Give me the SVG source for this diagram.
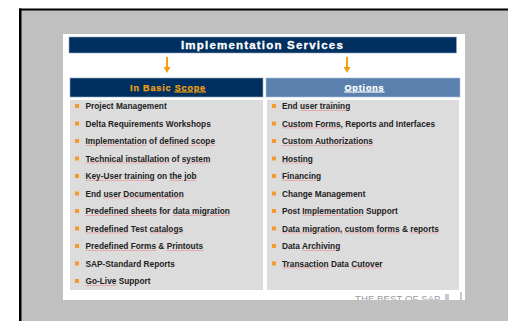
<svg xmlns="http://www.w3.org/2000/svg" width="508" height="321" viewBox="0 0 508 321">
<defs>
<style>
.item{font-family:"Liberation Sans",Arial,sans-serif;font-size:8.3px;font-weight:bold;fill:#222222}
.bul{fill:#f59a2e}
.hdr{font-family:"Liberation Sans",Arial,sans-serif;font-size:9px;font-weight:bold;text-anchor:middle;letter-spacing:0.85px}
.arrow{fill:#f0a010}
.sp{fill:#eaa0a0;text-decoration:underline}
.w{fill:#222222}
</style>
<clipPath id="panelClip"><rect x="63" y="34" width="402" height="266"/></clipPath>
</defs>
<rect x="0" y="0" width="508" height="321" fill="#ffffff"/>
<rect x="19" y="9" width="489" height="312" fill="#c0c0c0"/>
<rect x="19" y="8.5" width="489" height="2" fill="#000"/>
<rect x="19" y="8.5" width="2.5" height="312.5" fill="#000"/>
<rect x="63" y="34" width="402" height="266" fill="#ffffff"/>

<g id="title">
<rect x="69" y="37" width="387.5" height="16" fill="#00305f" stroke="#8fa7c4" stroke-width="0.6"/>
<text x="262.5" y="49.2" font-family="'Liberation Sans',Arial,sans-serif" font-size="11.5" font-weight="bold" fill="#fff" stroke="#fff" stroke-width="0.3" text-anchor="middle" letter-spacing="1.2">Implementation Services</text>
</g>

<g id="connectors">
<rect class="arrow" x="166" y="57" width="2" height="11"/>
<polygon class="arrow" points="163.5,67 170.5,67 167,73"/>
<rect class="arrow" x="346" y="57" width="2" height="11"/>
<polygon class="arrow" points="343.5,67 350.5,67 347,73"/>
</g>

<g id="basic-header">
<rect x="70" y="78" width="193" height="19" fill="#00305f" stroke="#8fa7c4" stroke-width="0.6"/>
<text class="hdr" x="168" y="90.5" fill="#f0a010" stroke="#f0a010" stroke-width="0.25">In Basic <tspan text-decoration="underline">Scope</tspan></text>
</g>

<g id="options-header">
<rect x="266" y="78" width="194" height="19" fill="#5a80ad" stroke="#a9bfd9" stroke-width="0.6"/>
<text class="hdr" x="364.5" y="90.5" fill="#ffffff" stroke="#ffffff" stroke-width="0.25" text-decoration="underline">Options</text>
</g>

<g id="basic-list">
<rect x="70" y="100" width="193" height="190" fill="#dcdcdc"/>
<g class="bul">
<rect x="75" y="104" width="4" height="4"/>
<rect x="75" y="121.5" width="4" height="4"/>
<rect x="75" y="139" width="4" height="4"/>
<rect x="75" y="156.5" width="4" height="4"/>
<rect x="75" y="174" width="4" height="4"/>
<rect x="75" y="191.5" width="4" height="4"/>
<rect x="75" y="209" width="4" height="4"/>
<rect x="75" y="226.5" width="4" height="4"/>
<rect x="75" y="244" width="4" height="4"/>
<rect x="75" y="261.5" width="4" height="4"/>
<rect x="75" y="279" width="4" height="4"/>
</g>
<text class="item" x="85.5" y="109">Project Management</text>
<text class="item" x="85.5" y="126.5">Delta Requirements Workshops</text>
<text class="item" x="85.5" y="144"><tspan class="sp"><tspan class="w">Implementation</tspan></tspan> of <tspan class="sp"><tspan class="w">defined scope</tspan></tspan></text>
<text class="item" x="85.5" y="161.5"><tspan class="sp"><tspan class="w">Technical installation</tspan></tspan> of <tspan class="sp"><tspan class="w">system</tspan></tspan></text>
<text class="item" x="85.5" y="179"><tspan class="sp"><tspan class="w">Key-User training</tspan></tspan> on <tspan class="sp"><tspan class="w">the job</tspan></tspan></text>
<text class="item" x="85.5" y="196.5">End <tspan class="sp"><tspan class="w">user Documentation</tspan></tspan></text>
<text class="item" x="85.5" y="214"><tspan class="sp"><tspan class="w">Predefined sheets</tspan></tspan> for <tspan class="sp"><tspan class="w">data migration</tspan></tspan></text>
<text class="item" x="85.5" y="231.5"><tspan class="sp"><tspan class="w">Predefined</tspan></tspan> Test <tspan class="sp"><tspan class="w">catalogs</tspan></tspan></text>
<text class="item" x="85.5" y="249"><tspan class="sp"><tspan class="w">Predefined Forms</tspan></tspan> &amp; <tspan class="sp"><tspan class="w">Printouts</tspan></tspan></text>
<text class="item" x="85.5" y="266.5">SAP-Standard Reports</text>
<text class="item" x="85.5" y="284"><tspan class="sp"><tspan class="w">Go-Live</tspan></tspan> Support</text>
</g>

<g id="options-list">
<rect x="267" y="100" width="192" height="190" fill="#dcdcdc"/>
<g class="bul">
<rect x="272" y="104" width="4" height="4"/>
<rect x="272" y="121.5" width="4" height="4"/>
<rect x="272" y="139" width="4" height="4"/>
<rect x="272" y="156.5" width="4" height="4"/>
<rect x="272" y="174" width="4" height="4"/>
<rect x="272" y="191.5" width="4" height="4"/>
<rect x="272" y="209" width="4" height="4"/>
<rect x="272" y="226.5" width="4" height="4"/>
<rect x="272" y="244" width="4" height="4"/>
<rect x="272" y="261.5" width="4" height="4"/>
</g>
<text class="item" x="282" y="109">End <tspan class="sp"><tspan class="w">user training</tspan></tspan></text>
<text class="item" x="282" y="126.5"><tspan class="sp"><tspan class="w">Custom Forms</tspan></tspan>, Reports and Interfaces</text>
<text class="item" x="282" y="144"><tspan class="sp"><tspan class="w">Custom Authorizations</tspan></tspan></text>
<text class="item" x="282" y="161.5"><tspan class="sp"><tspan class="w">Hosting</tspan></tspan></text>
<text class="item" x="282" y="179"><tspan class="sp"><tspan class="w">Financing</tspan></tspan></text>
<text class="item" x="282" y="196.5">Change Management</text>
<text class="item" x="282" y="214">Post <tspan class="sp"><tspan class="w">Implementation</tspan></tspan> Support</text>
<text class="item" x="282" y="231.5"><tspan class="sp"><tspan class="w">Data migration</tspan></tspan>, <tspan class="sp"><tspan class="w">custom forms</tspan></tspan> &amp; <tspan class="sp"><tspan class="w">reports</tspan></tspan></text>
<text class="item" x="282" y="249">Data <tspan class="sp"><tspan class="w">Archiving</tspan></tspan></text>
<text class="item" x="282" y="266.5"><tspan class="sp"><tspan class="w">Transaction</tspan></tspan> Data <tspan class="sp"><tspan class="w">Cutover</tspan></tspan></text>
</g>

<g id="footer" clip-path="url(#panelClip)">
<text x="355" y="301.5" font-family="'Liberation Sans',Arial,sans-serif" font-size="9.7" fill="#9a9aa6">THE BEST OF SAP</text>
<rect x="445" y="294" width="4" height="6" fill="#c8c8d0"/>
<rect x="460" y="292" width="2" height="8" fill="#c8c8d0"/>
</g>
</svg>
